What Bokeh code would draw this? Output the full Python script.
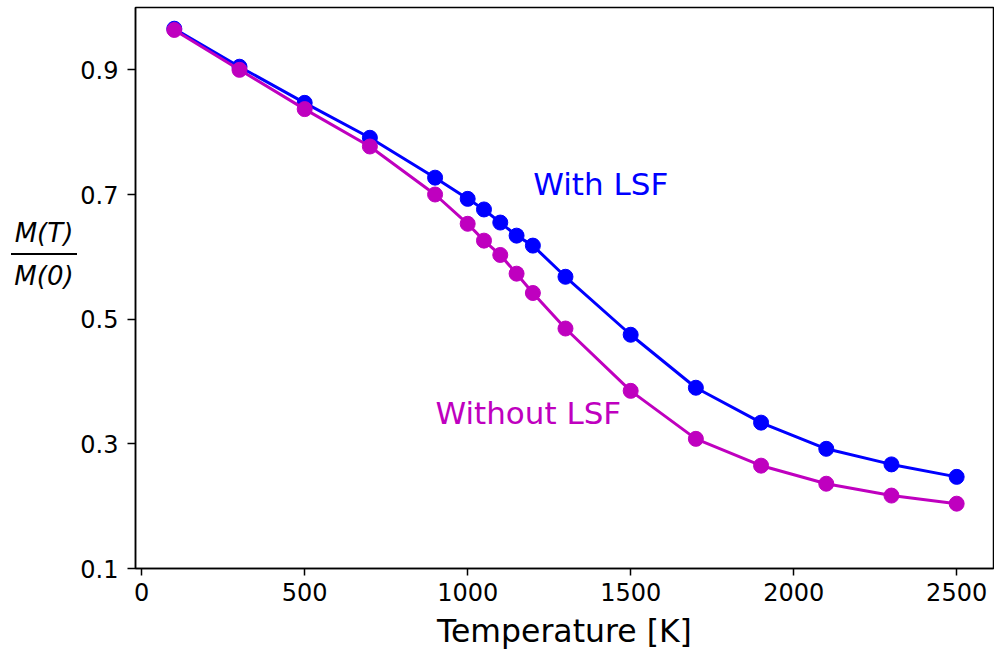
from bokeh.plotting import figure
from bokeh.models import Range1d, FixedTicker, Label, Div
from bokeh.layouts import row
from bokeh.embed import file_html
from bokeh.resources import INLINE

# Temperature grid [K]
temperature = [100, 300, 500, 700, 900, 1000, 1050, 1100, 1150, 1200,
               1300, 1500, 1700, 1900, 2100, 2300, 2500]

# Normalised magnetisation M(T)/M(0)
with_lsf = [0.966, 0.905, 0.847, 0.791, 0.727, 0.693, 0.676, 0.655, 0.634,
            0.618, 0.568, 0.475, 0.390, 0.334, 0.292, 0.267, 0.247]
without_lsf = [0.964, 0.900, 0.837, 0.777, 0.700, 0.653, 0.626, 0.603, 0.573,
               0.542, 0.485, 0.385, 0.308, 0.265, 0.236, 0.217, 0.204]

x_ticks = [0, 500, 1000, 1500, 2000, 2500]
y_ticks = [0.1, 0.3, 0.5, 0.7, 0.9]

BLUE = "#0000ff"
MAGENTA = "#bf00bf"
FONT = "DejaVu Sans"

LABEL_W = 77  # width of the strip holding the fraction-style y label

p = figure(width=994 - LABEL_W, height=651, output_backend="svg",
           toolbar_location=None,
           x_range=Range1d(-19, 2613), y_range=Range1d(0.1, 1.0),
           min_border_left=135 - LABEL_W, min_border_right=1, min_border_top=7,
           min_border_bottom=83, margin=0)

p.background_fill_color = "white"
p.border_fill_color = "white"
p.grid.visible = False
p.outline_line_color = "black"
p.outline_line_width = 1.5

for ax in (p.xaxis[0], p.yaxis[0]):
    ax.axis_line_width = 1.5
    ax.major_tick_line_width = 1.5
    ax.major_tick_in = 0
    ax.minor_tick_line_color = None
    ax.major_label_text_font = FONT
    ax.major_label_text_font_size = "24px"
    ax.major_label_text_color = "black"

p.xaxis.major_tick_out = 7
p.xaxis.major_label_standoff = 7
p.yaxis.major_tick_out = 8
p.yaxis.major_label_standoff = 9

p.xaxis.ticker = FixedTicker(ticks=x_ticks)
p.yaxis.ticker = FixedTicker(ticks=y_ticks)
p.xaxis.axis_label = "Temperature [K]"
p.xaxis.axis_label_text_font = FONT
p.xaxis.axis_label_text_font_size = "31.5px"
p.xaxis.axis_label_text_font_style = "normal"
p.xaxis.axis_label_text_color = "black"
p.xaxis.axis_label_standoff = 9

p.line(temperature, with_lsf, line_color=BLUE, line_width=3)
p.scatter(temperature, with_lsf, size=15, fill_color=BLUE, line_color=BLUE)
p.line(temperature, without_lsf, line_color=MAGENTA, line_width=3)
p.scatter(temperature, without_lsf, size=15, fill_color=MAGENTA, line_color=MAGENTA)

p.add_layout(Label(x=1201, y=0.717, text="With LSF", text_color=BLUE,
                   text_font=FONT, text_font_size="31px", text_baseline="middle"))
p.add_layout(Label(x=901, y=0.350, text="Without LSF", text_color=MAGENTA,
                   text_font=FONT, text_font_size="31px", text_baseline="middle"))

# y label written as a horizontal fraction M(T) / M(0)
ylabel = Div(
    width=LABEL_W, height=651, margin=0,
    text=(
        "<div style=\"margin-top:218px; margin-left:11px; width:66px; "
        "font-family:'DejaVu Sans'; font-style:italic; font-size:26px; "
        "line-height:30px; color:black; text-align:center;\">"
        "<div style=\"border-bottom:2px solid black; padding-bottom:5px;\">M(T)</div>"
        "<div style=\"margin-top:6px;\">M(0)</div>"
        "</div>"
    ),
)

layout = row(ylabel, p, spacing=0)

open("out.html", "w").write(file_html(layout, INLINE))
